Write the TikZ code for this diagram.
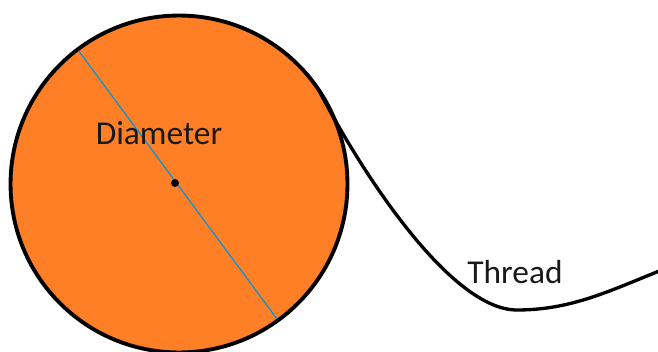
\documentclass[tikz,border=0pt]{standalone}
\usepackage{fontspec}
\setmainfont{Carlito}
\usepackage{xcolor}
\definecolor{spool}{RGB}{255,127,39}
\definecolor{diamline}{RGB}{0,150,215}
\tikzset{
  labeltext/.style={font=\fontsize{19}{22}\selectfont, text=black!90, anchor=base, inner sep=0pt},
  wheelnode/.style={circle, fill=spool, draw=black, line width=2.2pt, minimum size=6.74cm, inner sep=0pt, outer sep=0pt}
}

\begin{document}
\begin{tikzpicture}[x=0.02cm, y=-0.02cm]
            \useasboundingbox (0,0) rectangle (658,351);
            \node[wheelnode] (wheel) at (179,184) {};
            \draw[diamline, line width=0.7pt, shorten <=1pt, shorten >=1pt] (wheel.127.5) -- (wheel.-54.5);
            \node[circle, fill=black, inner sep=0pt, minimum size=0.16cm] (hub) at (175,183) {};
            \coordinate (threadend) at (672,266);
            \draw[line width=1.9pt] (wheel.34) .. controls (360,170) and (450,310) .. (517,310)
                                               .. controls (575,310) and (615,288) .. (threadend);
            \node[labeltext] (diamtext) at (159,145) {Diameter};
            \node[labeltext] (threadtext) at (515,283) {Thread};
        \end{tikzpicture}
\end{document}
